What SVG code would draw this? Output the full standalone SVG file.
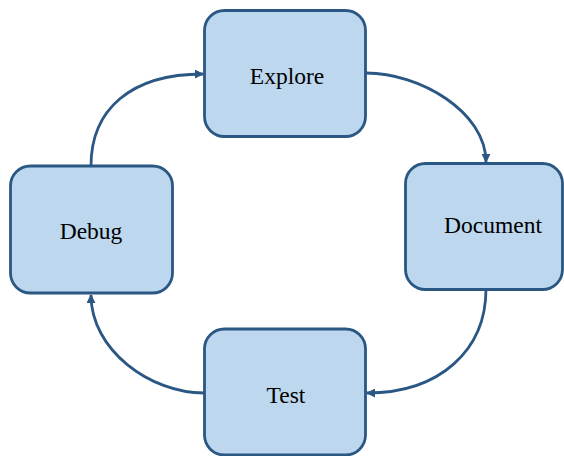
<svg xmlns="http://www.w3.org/2000/svg" width="564" height="456" viewBox="0 0 564 456">
<style>
.box{fill:#bdd7ee;stroke:#2a5783;stroke-width:2.8}
.lbl{font-family:"Liberation Serif","Times New Roman",serif;font-size:23.5px;fill:#000;text-anchor:middle}
.conn{fill:none;stroke:#2a5783;stroke-width:2.8;marker-end:url(#arr)}
</style>
<defs>
<marker id="arr" viewBox="0 0 10 10" refX="9" refY="5" markerWidth="9" markerHeight="9" markerUnits="userSpaceOnUse" orient="auto">
<path d="M0,0 L10,5 L0,10 Z" fill="#2a5783"/>
</marker>
</defs>
<rect width="564" height="456" fill="#fff"/>
<g id="connectors">
<path class="conn" d="M366,73 C420,73 486,112 486,162"/>
<path class="conn" d="M486,289 C486,350 440,393 367,393"/>
<path class="conn" d="M204,393 C150,393 91,350 91,295"/>
<path class="conn" d="M91,166 C91,110 130,74 203,74"/>
</g>
<g id="explore">
<rect class="box" x="204.5" y="10.5" width="161" height="126" rx="20"/>
<text class="lbl" x="287" y="84">Explore</text>
</g>
<g id="document">
<rect class="box" x="405.5" y="163.5" width="157" height="126" rx="20"/>
<text class="lbl" x="493" y="233">Document</text>
</g>
<g id="test">
<rect class="box" x="204.5" y="329" width="161" height="126" rx="20"/>
<text class="lbl" x="286" y="403">Test</text>
</g>
<g id="debug">
<rect class="box" x="10.5" y="166" width="162" height="127" rx="20"/>
<text class="lbl" x="91" y="239">Debug</text>
</g>
</svg>
